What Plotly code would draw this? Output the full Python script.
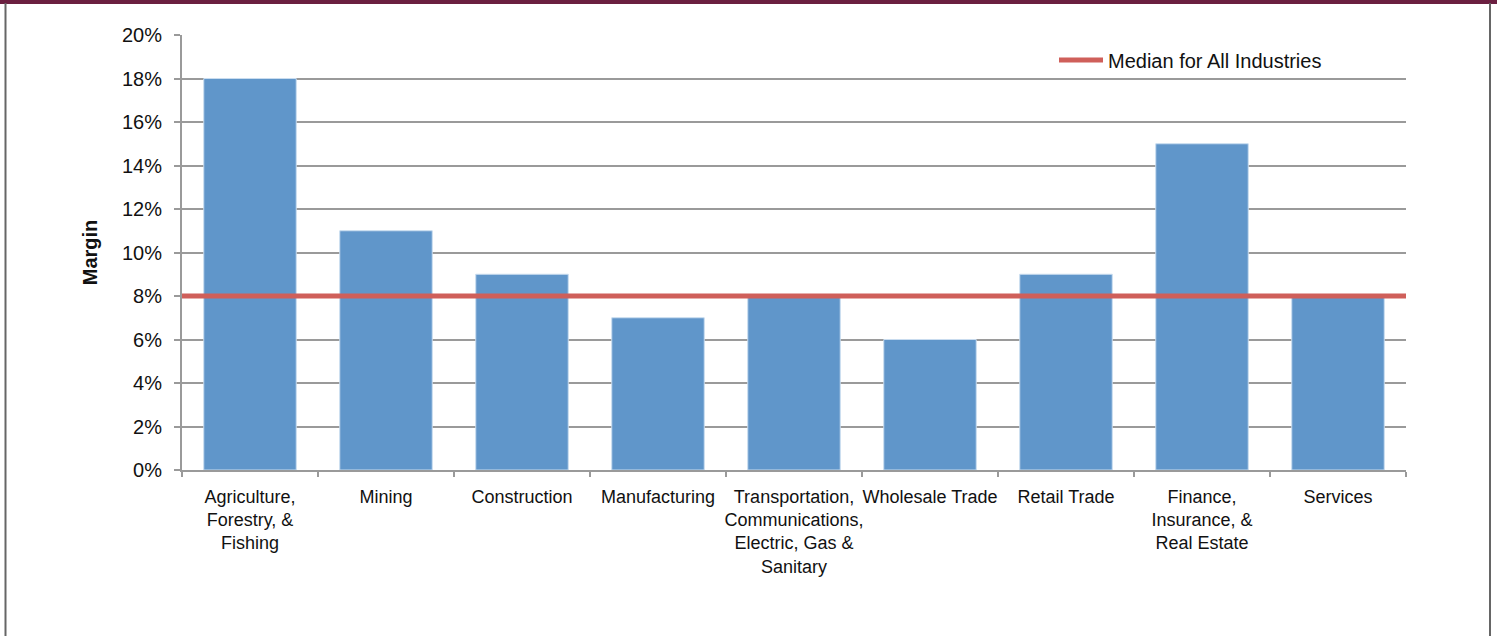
import plotly.graph_objects as go

categories = [
    "Agriculture,<br>Forestry, &<br>Fishing",
    "Mining",
    "Construction",
    "Manufacturing",
    "Transportation,<br>Communications,<br>Electric, Gas &<br>Sanitary",
    "Wholesale Trade",
    "Retail Trade",
    "Finance,<br>Insurance, &<br>Real Estate",
    "Services",
]
margins = [18, 11, 9, 7, 8, 6, 9, 15, 8]
median_all = 8
median_label = "Median for All Industries"
y_ticks = [0, 2, 4, 6, 8, 10, 12, 14, 16, 18, 20]

FONT = "Liberation Sans, Arial, sans-serif"
GRID = "#9a9a9a"

fig = go.Figure()
fig.add_trace(go.Bar(
    x=categories, y=margins,
    marker=dict(color="#6096CA", line=dict(color="#C9DCEF", width=1)),
    showlegend=False, hoverinfo="skip",
))
fig.add_trace(go.Scatter(
    x=[0, 1], y=[median_all, median_all], xaxis="x2", mode="lines",
    line=dict(color="#CF5F5A", width=5), name=median_label, showlegend=True,
))

W, H = 1497, 636
L, R, T, B = 182, 91, 35, 166
pw, ph = W - L - R, H - T - B

def px(x):
    return (x - L) / pw

def py(y):
    return (H - B - y) / ph

shapes = [
    dict(type="rect", xref="paper", yref="paper", x0=px(-5), x1=px(W + 5), y0=py(4), y1=py(-5),
         fillcolor="#6B1F40", line=dict(width=0), layer="above"),
    dict(type="line", xref="paper", yref="paper", x0=px(5.5), x1=px(5.5), y0=py(3), y1=py(H + 5),
         line=dict(color="#666666", width=2)),
    dict(type="line", xref="paper", yref="paper", x0=px(1490), x1=px(1490), y0=py(3), y1=py(H + 5),
         line=dict(color="#666666", width=2)),
]

fig.update_layout(
    width=W, height=H,
    margin=dict(l=L, r=R, t=T, b=B, pad=0, autoexpand=False),
    paper_bgcolor="white", plot_bgcolor="white",
    font=dict(family=FONT, color="#111111", size=18),
    bargap=0.32,
    shapes=shapes,
    xaxis=dict(
        type="category", range=[-0.5, 8.5], automargin=False, tickangle=0,
        showline=True, linecolor=GRID, linewidth=2,
        ticks="outside", tickson="boundaries", ticklen=5, tickcolor=GRID, tickwidth=2,
        ticklabelstandoff=9,
        showgrid=False, tickfont=dict(size=18, family=FONT, color="#111111"),
    ),
    xaxis2=dict(overlaying="x", range=[0, 1], visible=False, fixedrange=True),
    yaxis=dict(
        range=[0, 20], tickvals=y_ticks, ticktext=[f"{v}%" for v in y_ticks], automargin=False,
        showline=True, linecolor=GRID, linewidth=2,
        ticks="outside", ticklen=6, tickcolor=GRID, tickwidth=2,
        ticklabelstandoff=8,
        showgrid=True, gridcolor=GRID, gridwidth=2, zeroline=False,
        tickfont=dict(size=20, family=FONT, color="#111111"),
        title=dict(text="<b>Margin</b>", font=dict(size=20, family=FONT, color="#111111"), standoff=19),
    ),
    legend=dict(
        x=px(1054), y=py(60), xanchor="left", yanchor="middle",
        bgcolor="rgba(0,0,0,0)", borderwidth=0, itemwidth=44,
        font=dict(size=20, family=FONT, color="#111111"),
    ),
)

fig.write_html("out.html", config={"displayModeBar": False},
               post_script="document.body.style.margin='0px';")
